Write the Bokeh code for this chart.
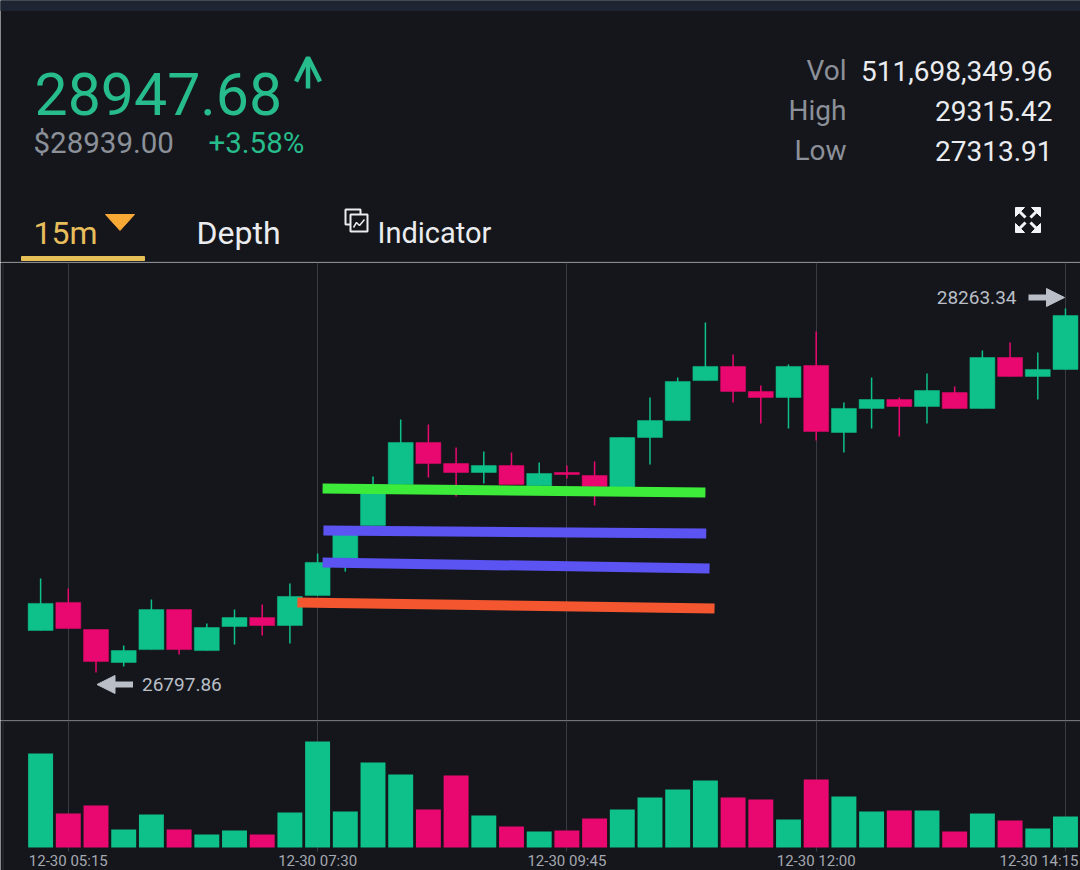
from bokeh.plotting import figure
from bokeh.layouts import column
from bokeh.models import (Range1d, FixedTicker, Label, Arrow, NormalHead, OpenHead,
                          Span, ColumnDataSource)
from bokeh.embed import file_html
from bokeh.resources import INLINE

# ---------------- data ----------------
opens = [26967, 27080, 26971, 26838, 26890, 27051, 26886, 26983, 27019, 26987,
         27108, 27241, 27390, 27555, 27724, 27639, 27603, 27631, 27550, 27603,
         27591, 27543, 27744, 27812, 27973, 28030, 27929, 27905, 28034, 27764,
         27861, 27897, 27869, 27925, 27861, 28066, 27990, 28018]
highs = [27176, 27136, 26971, 26907, 27092, 27051, 26995, 27051, 27072, 27156,
         27277, 27382, 27587, 27816, 27796, 27704, 27688, 27684, 27643, 27631,
         27647, 27744, 27905, 27986, 28207, 28078, 27953, 28038, 28171, 27885,
         27986, 27905, 28002, 27949, 28094, 28126, 28086, 28263.34]
lows = [26967, 26975, 26797.86, 26822, 26890, 26870, 26886, 26911, 26947, 26915,
        27108, 27204, 27390, 27555, 27583, 27506, 27559, 27555, 27550, 27579,
        27470, 27543, 27635, 27812, 27973, 27885, 27800, 27780, 27732, 27684,
        27780, 27748, 27800, 27861, 27861, 27990, 27897, 28018]
closes = [27076, 26975, 26842, 26886, 27051, 26890, 26979, 27019, 26987, 27104,
          27241, 27382, 27553, 27724, 27639, 27603, 27631, 27555, 27599, 27595,
          27547, 27744, 27812, 27969, 28030, 27929, 27905, 28030, 27768, 27861,
          27897, 27869, 27933, 27861, 28066, 27990, 28018, 28235]
volumes = [940, 340, 420, 180, 330, 180, 130, 170, 130, 350,
           1060, 360, 850, 730, 380, 720, 320, 210, 160, 170,
           290, 380, 500, 580, 670, 500, 480, 280, 680, 510,
           360, 370, 370, 160, 340, 270, 190, 310]

tick_idx = [1, 10, 19, 28, 37]
tick_labels = ["12-30 05:15", "12-30 07:30", "12-30 09:45", "12-30 12:00", "12-30 14:15"]

# hand-drawn level lines (candle index, price)
lvl_x0 = [10.18, 10.21, 10.18, 9.27]
lvl_x1 = [24.00, 24.03, 24.15, 24.33]
lvl_y0 = [27538.6, 27369.6, 27240.7, 27079.7]
lvl_y1 = [27522.5, 27357.5, 27216.6, 27055.5]
lvl_colors = ["#3DEB3A", "#5B53F2", "#5B53F2", "#F4572F"]

last_price = "28947.68"
usd_price = "$28939.00"
change_pct = "+3.58%"
stat_names = ["Vol", "High", "Low"]
stat_values = ["511,698,349.96", "29315.42", "27313.91"]
tabs = ["15m", "Depth", "Indicator"]

# ---------------- style ----------------
BG = "#15161B"
GREEN = "#0EC08A"
PINK = "#E9086F"
TXT_GREEN = "#27BC8C"
GRID = "#393C44"
BORDER = "#2E3138"
FONT = "Roboto"
W = 1080

# ---------------- header ----------------
hdr = figure(width=W, height=262, x_range=Range1d(0, 1080), y_range=Range1d(262, 0),
             output_backend="svg", toolbar_location=None, min_border=0,
             background_fill_color=BG, border_fill_color=BG, outline_line_color=None,
             x_axis_location=None, y_axis_location=None)
hdr.xgrid.visible = False
hdr.ygrid.visible = False
hdr.quad(left=0, right=1080, top=0, bottom=10, color="#1E2532")

def lab(fig, x, y, text, size, color, align="left", baseline="alphabetic", style="normal"):
    fig.add_layout(Label(x=x, y=y, text=text, text_font=FONT, text_font_size=f"{size}px",
                         text_color=color, text_align=align, text_baseline=baseline,
                         text_font_style=style))

lab(hdr, 34, 93, last_price, 59, TXT_GREEN)
hdr.add_layout(Arrow(end=OpenHead(size=24, line_width=4.5, line_color=TXT_GREEN),
                     x_start=307.5, y_start=88, x_end=307.5, y_end=57,
                     line_width=4.5, line_color=TXT_GREEN))
lab(hdr, 33, 142, usd_price, 29.5, "#8B9099")
lab(hdr, 208, 142, change_pct, 29.5, TXT_GREEN)
for k, (nm, vv) in enumerate(zip(stat_names, stat_values)):
    base = 70 + 40 * k
    lab(hdr, 846, base, nm, 28, "#8B9099", align="right")
    lab(hdr, 1052, base, vv, 28, "#EAECEF", align="right")

lab(hdr, 33, 232, tabs[0], 32, "#E8BE5C")
hdr.patch([105, 134, 119.5], [214, 214, 230], color="#F7A935")
hdr.quad(left=21, right=144, top=256, bottom=260, color="#E7BF57")
lab(hdr, 196, 232, tabs[1], 32, "#EAECEF")
# indicator icon
hdr.quad(left=345, right=360, top=209, bottom=224, fill_color=None, line_color="#EAECEF", line_width=2)
hdr.quad(left=350, right=367, top=214, bottom=231, fill_color=BG, line_color="#EAECEF", line_width=2)
hdr.line([353, 356, 359, 364], [227, 222, 225, 219], line_color="#EAECEF", line_width=1.5)
lab(hdr, 377, 232, tabs[2], 29, "#EAECEF")
# fullscreen icon
for cx, cy, sx, sy in [(1015, 207, 1, 1), (1040, 207, -1, 1), (1015, 232, 1, -1), (1040, 232, -1, -1)]:
    hdr.patch([cx, cx + 9 * sx, cx], [cy, cy, cy + 9 * sy], color="#F2F3F5")
    hdr.line([cx + 3 * sx, cx + 10 * sx], [cy + 3 * sy, cy + 10 * sy], line_color="#F2F3F5", line_width=3)
hdr.segment(x0=0, y0=261.5, x1=1080, y1=261.5, line_color="#33363D", line_width=1)

# ---------------- candles ----------------
n = len(opens)
idx = list(range(n))
up = [c >= o for o, c in zip(opens, closes)]
colors = [GREEN if u else PINK for u in up]
src = ColumnDataSource(dict(x=idx, o=opens, h=highs, l=lows, c=closes,
                            top=[max(o, c) for o, c in zip(opens, closes)],
                            bot=[min(o, c) for o, c in zip(opens, closes)],
                            vol=volumes, color=colors))

XS, XE = -1.448, 37.542
xr = Range1d(XS, XE)
px = (XE - XS) / W
PTOP, PBOT = 28448.5, 26604.6
cf = figure(width=W, height=458, x_range=xr, y_range=Range1d(PBOT, PTOP),
            output_backend="svg", toolbar_location=None, min_border=0,
            background_fill_color=BG, border_fill_color=BG, outline_line_color=None,
            x_axis_location=None, y_axis_location=None)
cf.xgrid.ticker = FixedTicker(ticks=tick_idx)
cf.xgrid.grid_line_color = GRID
cf.xgrid.grid_line_width = 1
cf.ygrid.visible = False
cf.add_layout(Span(location=XS + 2.5 * px, dimension="height", line_color=BORDER, line_width=1))

cf.segment(x0="x", y0="h", x1="x", y1="l", source=src, line_color="color", line_width=1.5)
cf.vbar(x="x", top="top", bottom="bot", width=0.9, source=src,
        fill_color="color", line_color="color", line_width=0.5)

ppp = (PTOP - PBOT) / 458.0
# high / low markers
hi_i = max(range(n), key=lambda i: highs[i])
lo_i = min(range(n), key=lambda i: lows[i])
MARK = "#B9BEC7"
hy = highs[hi_i] + 11 * ppp
cf.add_layout(Arrow(end=NormalHead(size=18, fill_color=MARK, line_color=MARK),
                    x_start=hi_i - 37 * px, y_start=hy, x_end=hi_i - 1 * px, y_end=hy,
                    line_width=6, line_color=MARK))
cf.add_layout(Label(x=hi_i, y=hy, x_offset=-49, text=f"{highs[hi_i]:.2f}", text_font=FONT,
                    text_font_size="19px", text_color=MARK, text_align="right",
                    text_baseline="middle"))
ly = lows[lo_i] - 12 * ppp
cf.add_layout(Arrow(end=NormalHead(size=18, fill_color=MARK, line_color=MARK),
                    x_start=lo_i + 37 * px, y_start=ly, x_end=lo_i + 1 * px, y_end=ly,
                    line_width=6, line_color=MARK))
cf.add_layout(Label(x=lo_i, y=ly, x_offset=46, text=f"{lows[lo_i]:.2f}", text_font=FONT,
                    text_font_size="19px", text_color=MARK, text_align="left",
                    text_baseline="middle"))

# hand-drawn level lines
cf.segment(x0=lvl_x0, y0=lvl_y0, x1=lvl_x1, y1=lvl_y1, line_color=lvl_colors,
           line_width=10, line_cap="butt")

# ---------------- volume ----------------
VTOP, VBOT = 1270, -230
vf = figure(width=W, height=150, x_range=xr, y_range=Range1d(VBOT, VTOP),
            output_backend="svg", toolbar_location=None, min_border=0,
            background_fill_color=BG, border_fill_color=BG, outline_line_color=None,
            x_axis_location=None, y_axis_location=None)
vf.xgrid.ticker = FixedTicker(ticks=tick_idx)
vf.xgrid.grid_line_color = GRID
vf.ygrid.visible = False
vf.add_layout(Span(location=XS + 2.5 * px, dimension="height", line_color=BORDER, line_width=1))
vf.vbar(x="x", top="vol", bottom=0, width=0.9, source=src, fill_color="color", line_color=None)
vf.add_layout(Span(location=VTOP - 5, dimension="width", line_color="#33363D", line_width=1))
for k, (t, s) in enumerate(zip(tick_idx, tick_labels)):
    last = k == len(tick_idx) - 1
    vf.add_layout(Label(x=t, y=0, x_offset=13 if last else 0, y_offset=-13, text=s,
                        text_font=FONT, text_font_size="15px", text_color="#A4A8B0",
                        text_align="right" if last else "center", text_baseline="alphabetic",
                        background_fill_color=BG))

layout = column(hdr, cf, vf, spacing=0)
open("out.html", "w").write(file_html(layout, INLINE))
